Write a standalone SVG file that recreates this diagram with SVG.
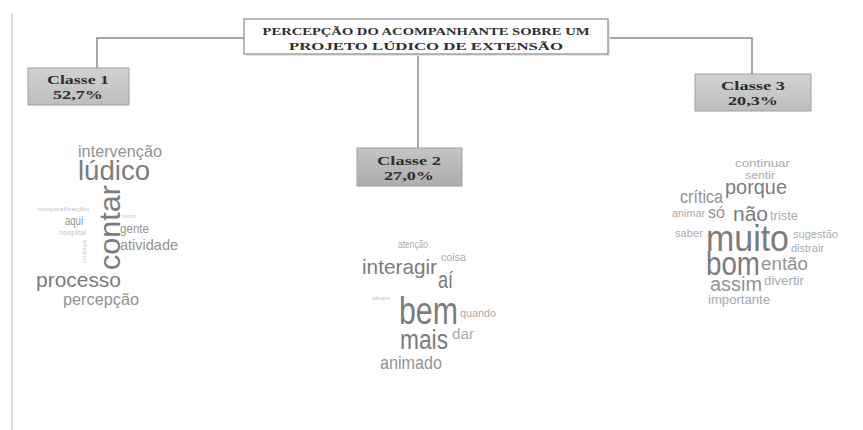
<svg xmlns="http://www.w3.org/2000/svg" width="863" height="430" viewBox="0 0 863 430">
<defs>
<linearGradient id="gbox" x1="0" y1="0" x2="0" y2="1">
<stop offset="0" stop-color="#d2d2d2"/>
<stop offset="1" stop-color="#bdbdbd"/>
</linearGradient>
<linearGradient id="gbox2" x1="0" y1="0" x2="0" y2="1">
<stop offset="0" stop-color="#c4c4c4"/>
<stop offset="1" stop-color="#adadad"/>
</linearGradient>
</defs>
<style>
.conn{fill:none;stroke:#8a8a8a;stroke-width:1.5}
.box{stroke:#a0a0a0;stroke-width:1}
.bt{font-family:"Liberation Serif","Times New Roman",serif;font-weight:bold;fill:#2e2e2e;text-anchor:middle}
.w{font-family:"Liberation Sans",Arial,sans-serif}
.d{fill:#7c7c7c}
.m{fill:#939393}
.l{fill:#ababab}
.t{fill:#c6c6c6}
</style>
<rect width="863" height="430" fill="#fff"/>
<line x1="12" y1="13" x2="12" y2="430" stroke="#dcdcdc" stroke-width="2"/>
<g id="connectors">
<polyline class="conn" points="244,38 97,38 97,68"/>
<polyline class="conn" points="608,38 752,38 752,74"/>
<line class="conn" x1="418" y1="54" x2="418" y2="148"/>
</g>
<g id="title">
<rect x="246" y="21" width="364" height="35" fill="#e6e6e6"/>
<rect x="244" y="19" width="364" height="35" fill="#fff" stroke="#8a8a8a" stroke-width="1.2"/>
<text class="bt" x="426" y="35" font-size="11" textLength="327" lengthAdjust="spacingAndGlyphs">PERCEPÇÃO DO ACOMPANHANTE SOBRE UM</text>
<text class="bt" x="426" y="50" font-size="11" textLength="274" lengthAdjust="spacingAndGlyphs">PROJETO LÚDICO DE EXTENSÃO</text>
</g>
<g id="classe1">
<rect class="box" x="28" y="68" width="101" height="37" fill="url(#gbox)"/>
<text class="bt" x="78" y="84" font-size="12.5" textLength="62" lengthAdjust="spacingAndGlyphs">Classe 1</text>
<text class="bt" x="78" y="99" font-size="12.5" textLength="50" lengthAdjust="spacingAndGlyphs">52,7%</text>
</g>
<g id="classe2">
<rect class="box" x="357" y="148" width="105" height="38" fill="url(#gbox2)"/>
<text class="bt" x="409" y="165" font-size="12.5" textLength="64" lengthAdjust="spacingAndGlyphs">Classe 2</text>
<text class="bt" x="409" y="180" font-size="12.5" textLength="50" lengthAdjust="spacingAndGlyphs">27,0%</text>
</g>
<g id="classe3">
<rect class="box" x="695" y="74" width="116" height="37" fill="url(#gbox)"/>
<text class="bt" x="753" y="90" font-size="12.5" textLength="64" lengthAdjust="spacingAndGlyphs">Classe 3</text>
<text class="bt" x="753" y="105" font-size="12.5" textLength="50" lengthAdjust="spacingAndGlyphs">20,3%</text>
</g>
<g id="cloud1" class="w">
<text class="m" x="78" y="157" font-size="16" textLength="84" lengthAdjust="spacingAndGlyphs">intervenção</text>
<text class="d" x="78" y="180" font-size="27" textLength="72" lengthAdjust="spacingAndGlyphs">lúdico</text>
<text class="d" transform="translate(120,270) rotate(-90)" font-size="30" textLength="85" lengthAdjust="spacingAndGlyphs">contar</text>
<text class="t" x="37" y="211" font-size="6" textLength="52" lengthAdjust="spacingAndGlyphs">hospitalização</text>
<text class="m" x="65" y="225" font-size="12" textLength="18" lengthAdjust="spacingAndGlyphs">aqui</text>
<text class="t" x="59" y="235" font-size="7" textLength="27" lengthAdjust="spacingAndGlyphs">hospital</text>
<text class="t" x="122" y="218" font-size="6" textLength="14" lengthAdjust="spacingAndGlyphs">dentro</text>
<text class="m" x="120" y="233" font-size="13" textLength="29" lengthAdjust="spacingAndGlyphs">gente</text>
<text class="m" x="120" y="250" font-size="15" textLength="58" lengthAdjust="spacingAndGlyphs">atividade</text>
<text class="t" transform="translate(86,263) rotate(-90)" font-size="6" textLength="23" lengthAdjust="spacingAndGlyphs">criança</text>
<text class="d" x="36" y="287" font-size="20" textLength="85" lengthAdjust="spacingAndGlyphs">processo</text>
<text class="m" x="63" y="305" font-size="16" textLength="76" lengthAdjust="spacingAndGlyphs">percepção</text>
</g>
<g id="cloud2" class="w">
<text class="l" x="398" y="248" font-size="10" textLength="30" lengthAdjust="spacingAndGlyphs">atenção</text>
<text class="l" x="441" y="261" font-size="10" textLength="25" lengthAdjust="spacingAndGlyphs">coisa</text>
<text class="d" x="362" y="274" font-size="21" textLength="75" lengthAdjust="spacingAndGlyphs">interagir</text>
<text class="d" x="438" y="288" font-size="24" textLength="15" lengthAdjust="spacingAndGlyphs">aí</text>
<text class="t" x="372" y="300" font-size="6" textLength="18" lengthAdjust="spacingAndGlyphs">alegre</text>
<text class="d" x="399" y="324" font-size="38" textLength="59" lengthAdjust="spacingAndGlyphs">bem</text>
<text class="l" x="460" y="317" font-size="10" textLength="36" lengthAdjust="spacingAndGlyphs">quando</text>
<text class="d" x="400" y="349" font-size="27" textLength="48" lengthAdjust="spacingAndGlyphs">mais</text>
<text class="l" x="452" y="339" font-size="14" textLength="22" lengthAdjust="spacingAndGlyphs">dar</text>
<text class="m" x="380" y="369" font-size="19" textLength="62" lengthAdjust="spacingAndGlyphs">animado</text>
</g>
<g id="cloud3" class="w">
<text class="l" x="735" y="167" font-size="10.5" textLength="55" lengthAdjust="spacingAndGlyphs">continuar</text>
<text class="l" x="745" y="179" font-size="10.5" textLength="30" lengthAdjust="spacingAndGlyphs">sentir</text>
<text class="d" x="725" y="194" font-size="20" textLength="62" lengthAdjust="spacingAndGlyphs">porque</text>
<text class="m" x="680" y="203" font-size="18" textLength="43" lengthAdjust="spacingAndGlyphs">crítica</text>
<text class="l" x="672" y="217" font-size="10" textLength="33" lengthAdjust="spacingAndGlyphs">animar</text>
<text class="m" x="708" y="218" font-size="17" textLength="17" lengthAdjust="spacingAndGlyphs">só</text>
<text class="d" x="733" y="221" font-size="21" textLength="35" lengthAdjust="spacingAndGlyphs">não</text>
<text class="l" x="770" y="220" font-size="12" textLength="28" lengthAdjust="spacingAndGlyphs">triste</text>
<text class="l" x="675" y="237" font-size="10" textLength="28" lengthAdjust="spacingAndGlyphs">saber</text>
<text class="d" x="706" y="251" font-size="37" textLength="83" lengthAdjust="spacingAndGlyphs">muito</text>
<text class="l" x="793" y="238" font-size="11" textLength="45" lengthAdjust="spacingAndGlyphs">sugestão</text>
<text class="l" x="791" y="252" font-size="10" textLength="33" lengthAdjust="spacingAndGlyphs">distrair</text>
<text class="d" x="706" y="275" font-size="33" textLength="54" lengthAdjust="spacingAndGlyphs">bom</text>
<text class="m" x="761" y="270" font-size="18" textLength="47" lengthAdjust="spacingAndGlyphs">então</text>
<text class="m" x="710" y="291" font-size="20" textLength="52" lengthAdjust="spacingAndGlyphs">assim</text>
<text class="l" x="764" y="285" font-size="12" textLength="40" lengthAdjust="spacingAndGlyphs">divertir</text>
<text class="l" x="708" y="304" font-size="12" textLength="62" lengthAdjust="spacingAndGlyphs">importante</text>
</g>
</svg>
